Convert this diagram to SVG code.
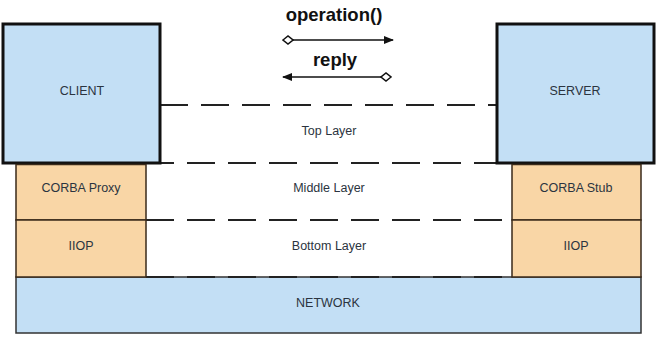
<svg xmlns="http://www.w3.org/2000/svg" width="658" height="343" viewBox="0 0 658 343">
<style>
text{font-family:"Liberation Sans",Arial,sans-serif;text-anchor:middle;dominant-baseline:middle}
.lbl{font-size:12.5px;fill:#2b3440}
.blue{fill:#c3dff5}
.big{stroke:#111;stroke-width:3}
.org{fill:#f9d6a6;stroke:#3a2a1a;stroke-width:1.5}
.dash{stroke:#222;stroke-width:1.8;stroke-dasharray:28 13;fill:none}
.ttl{font-size:18.5px;font-weight:bold;fill:#111}
.arr{stroke:#111;stroke-width:1.5;fill:none}
</style>
<defs>
<marker id="ah" markerWidth="10" markerHeight="8" refX="9" refY="4" orient="auto" markerUnits="userSpaceOnUse">
<path d="M0,0 L10,4 L0,8 Z" fill="#111"/>
</marker>
<marker id="dm" markerWidth="12" markerHeight="12" refX="6" refY="6" orient="auto" markerUnits="userSpaceOnUse">
<path d="M1,6 L6,2 L11,6 L6,10 Z" fill="#fff" stroke="#111" stroke-width="1.5"/>
</marker>
</defs>
<rect width="658" height="343" fill="#fff"/>
<g id="network"><rect x="16" y="277" width="625" height="56" class="blue" stroke="#333" stroke-width="1.5"/><text x="328" y="304" class="lbl">NETWORK</text></g>
<g id="connectors">
<line x1="160" y1="105" x2="497" y2="105" class="dash"/>
<line x1="146" y1="163" x2="512" y2="163" class="dash"/>
<line x1="146" y1="220" x2="512" y2="220" class="dash"/>
<line x1="146" y1="277" x2="512" y2="277" class="dash"/>
<line x1="288" y1="40" x2="393" y2="40" class="arr" marker-start="url(#dm)" marker-end="url(#ah)"/>
<line x1="386" y1="77" x2="283" y2="77" class="arr" marker-start="url(#dm)" marker-end="url(#ah)"/>
</g>
<g id="client"><rect x="3" y="24" width="157" height="139" class="blue big"/><text x="82" y="92" class="lbl">CLIENT</text></g>
<g id="server"><rect x="497" y="24" width="157" height="139" class="blue big"/><text x="575" y="92" class="lbl">SERVER</text></g>
<g id="proxy"><rect x="16" y="164.5" width="130" height="55.5" class="org"/><text x="81" y="189" class="lbl">CORBA Proxy</text></g>
<g id="iiop-client"><rect x="16" y="220" width="130" height="57" class="org"/><text x="81" y="247" class="lbl">IIOP</text></g>
<g id="stub"><rect x="512" y="164.5" width="129" height="55.5" class="org"/><text x="576" y="189" class="lbl">CORBA Stub</text></g>
<g id="iiop-server"><rect x="512" y="220" width="129" height="57" class="org"/><text x="576" y="247" class="lbl">IIOP</text></g>
<g id="layers">
<text x="329" y="132" class="lbl">Top Layer</text>
<text x="329" y="189" class="lbl">Middle Layer</text>
<text x="329" y="247" class="lbl">Bottom Layer</text>
</g>
<g id="messages">
<text x="334" y="16" class="ttl">operation()</text>
<text x="335" y="61" class="ttl">reply</text>
</g>
</svg>
